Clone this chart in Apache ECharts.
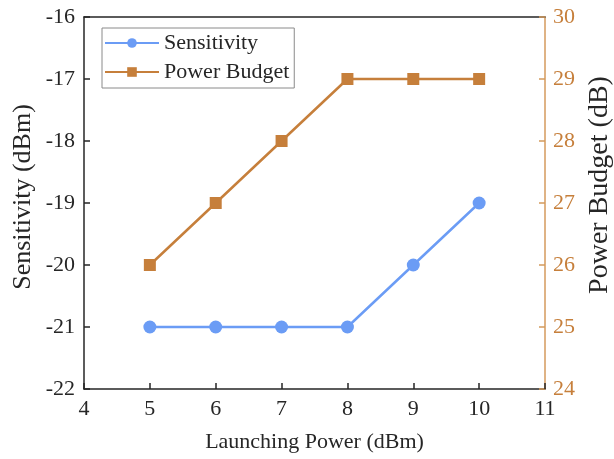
<!DOCTYPE html>
<html><head><meta charset="utf-8">
<script src="https://cdn.jsdelivr.net/npm/echarts@6/dist/echarts.min.js"></script>
<style>html,body{margin:0;padding:0;background:#fff}#c{width:614px;height:459px}</style>
</head><body><div id="c"></div>
<script>
var launchPower = [5, 6, 7, 8, 9, 10];
var sensitivity = [-21, -21, -21, -21, -20, -19];
var powerBudget = [26, 27, 28, 29, 29, 29];

var FONT = 'Liberation Serif';
var BLUE = '#6b9cf5';
var ORANGE = '#c67f3b';
var ORANGE_AX = '#d49a5c';
var DARK = '#262626';

var chart = echarts.init(document.getElementById('c'));
chart.setOption({
  animation: false,
  backgroundColor: '#fff',
  grid: {left: 84, right: 69, top: 17, bottom: 70, containLabel: false},
  legend: {
    left: 102, top: 28, orient: 'vertical',
    borderColor: '#8a8a8a', borderWidth: 1, borderRadius: 0,
    padding: [4, 5, 5, 2], itemGap: 7,
    itemWidth: 54, itemHeight: 12,
    textStyle: {fontFamily: FONT, fontSize: 22, color: DARK},
    data: ['Sensitivity', 'Power Budget']
  },
  graphic: [{
    type: 'text', x: 23, y: 197, rotation: Math.PI / 2,
    style: {text: 'Sensitivity (dBm)', font: '26px "Liberation Serif"', fill: DARK,
            textAlign: 'center', textVerticalAlign: 'middle'}
  }, {
    type: 'text', x: 600, y: 185, rotation: Math.PI / 2,
    style: {text: 'Power Budget (dB)', font: '28px "Liberation Serif"', fill: DARK,
            textAlign: 'center', textVerticalAlign: 'middle'}
  }],
  xAxis: [{
    type: 'value', min: 4, max: 11, interval: 1,
    name: 'Launching Power (dBm)', nameLocation: 'middle', nameGap: 42,
    nameTextStyle: {fontFamily: FONT, fontSize: 22, color: DARK},
    axisLine: {lineStyle: {color: DARK, width: 1.5}},
    axisTick: {inside: true, length: 6, lineStyle: {color: DARK, width: 1.5}},
    axisLabel: {fontFamily: FONT, fontSize: 22, color: DARK, margin: 9},
    splitLine: {show: false}
  }, {
    type: 'value', min: 4, max: 11, position: 'top',
    axisLine: {show: true, onZero: false, lineStyle: {color: DARK, width: 1.5}},
    axisTick: {show: false}, axisLabel: {show: false}, splitLine: {show: false}
  }],
  yAxis: [{
    type: 'value', min: -22, max: -16, interval: 1, position: 'left',
    axisLine: {show: true, onZero: false, lineStyle: {color: DARK, width: 1.5}},
    axisTick: {show: true, inside: true, length: 6, lineStyle: {color: DARK, width: 1.5}},
    axisLabel: {fontFamily: FONT, fontSize: 22, color: DARK, margin: 9},
    splitLine: {show: false}
  }, {
    type: 'value', min: 24, max: 30, interval: 1, position: 'right',
    axisLine: {show: true, onZero: false, lineStyle: {color: ORANGE_AX, width: 1.5}},
    axisTick: {show: true, inside: true, length: 6, lineStyle: {color: ORANGE_AX, width: 1.5}},
    axisLabel: {fontFamily: FONT, fontSize: 22, color: ORANGE, margin: 8},
    splitLine: {show: false}
  }],
  series: [{
    name: 'Sensitivity', type: 'line', xAxisIndex: 0, yAxisIndex: 0,
    data: launchPower.map(function (x, i) { return [x, sensitivity[i]]; }),
    symbol: 'circle', symbolSize: 13,
    lineStyle: {color: BLUE, width: 2.5}, itemStyle: {color: BLUE}
  }, {
    name: 'Power Budget', type: 'line', xAxisIndex: 0, yAxisIndex: 1,
    data: launchPower.map(function (x, i) { return [x, powerBudget[i]]; }),
    symbol: 'rect', symbolSize: 12,
    lineStyle: {color: ORANGE, width: 2.5}, itemStyle: {color: ORANGE}
  }]
});
</script></body></html>
